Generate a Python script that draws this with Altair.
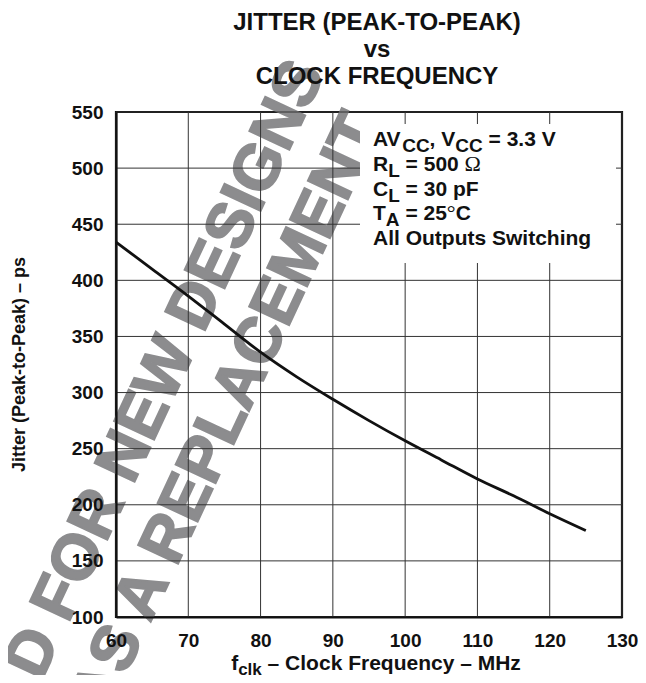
import altair as alt
import pandas as pd

# ---------------- data ----------------
freq_mhz = [60, 65, 70, 75, 80, 85, 90, 95, 100, 105, 110, 115, 120, 125]
jitter_ps = [434, 410, 386, 361, 336, 314, 294, 275, 257, 240, 223, 208, 192, 177]

x_ticks = [60, 70, 80, 90, 100, 110, 120, 130]
y_ticks = [100, 150, 200, 250, 300, 350, 400, 450, 500, 550]

title_lines = ["JITTER (PEAK-TO-PEAK)", "vs", "CLOCK FREQUENCY"]
x_title_segments = [("f", "main"), ("clk", "sub"), (" \u2013 Clock Frequency \u2013 MHz", "main")]
y_title_text = "Jitter (Peak-to-Peak) \u2013 ps"
condition_lines = [
    [("AV", "main"), ("CC", "sub"), (", V", "main"), ("CC", "sub"), (" = 3.3 V", "main")],
    [("R", "main"), ("L", "sub"), (" = 500 ", "main"), ("\u03a9", "sym")],
    [("C", "main"), ("L", "sub"), (" = 30 pF", "main")],
    [("T", "main"), ("A", "sub"), (" = 25", "main"), ("\u00b0", "sym"), ("C", "main")],
    [("All Outputs Switching", "main")],
]
watermark_lines = ["NOT RECOMMENDED FOR NEW DESIGNS", "AS A REPLACEMENT"]

# ---------------- layout / style ----------------
W, H = 506, 505
FONT = "Liberation Sans, Arial, Helvetica, sans-serif"
SYM_FONT = "Liberation Serif, Times New Roman, serif"
INK = "#111111"
GRID = "#333333"
WM_GRAY = "#8c8c8e"

ARIAL_BOLD = {
    " ": 278, ",": 278, ".": 278, "-": 333, "(": 333, ")": 333, "=": 584,
    "0": 556, "1": 556, "2": 556, "3": 556, "4": 556, "5": 556, "6": 556, "7": 556, "8": 556, "9": 556,
    "A": 722, "C": 722, "F": 611, "H": 722, "L": 611, "M": 833, "O": 778, "P": 667, "R": 722,
    "S": 667, "T": 611, "V": 667,
    "a": 556, "c": 556, "e": 556, "f": 333, "g": 611, "h": 611, "i": 278, "k": 556, "l": 278,
    "n": 611, "o": 611, "p": 611, "q": 611, "r": 389, "s": 556, "t": 333, "u": 611, "w": 778,
    "y": 556, "z": 500, "\u2013": 556,
}
SYMBOL = {"\u03a9": 768, "\u00b0": 400, " ": 250}


def text_width(s, size, kind):
    table = SYMBOL if kind == "sym" else ARIAL_BOLD
    return sum(table.get(c, 600) for c in s) / 1000.0 * size


ANNOT_STYLE = {
    "main": dict(font=FONT, size=21, weight="bold", dy=0),
    "sub": dict(font=FONT, size=19, weight="bold", dy=6),
    "sym": dict(font=SYM_FONT, size=22, weight="normal", dy=0),
}
XT_STYLE = {
    "main": dict(font=FONT, size=21, weight="bold", dy=0),
    "sub": dict(font=FONT, size=17, weight="bold", dy=5),
}

dummy = pd.DataFrame({"k": [0]})


def segment_layers(segments, x0, y0, style):
    """Place text pieces one after another (SVG drops leading blanks, so skip them by hand)."""
    layers = []
    x = x0
    for text, kind in segments:
        st = style[kind]
        stripped = text.lstrip(" ")
        lead = text[: len(text) - len(stripped)]
        x += text_width(lead, st["size"], "main" if kind != "sym" else "sym")
        layers.append(
            alt.Chart(dummy)
            .mark_text(text=stripped, align="left", baseline="alphabetic", font=st["font"],
                       fontSize=st["size"], fontWeight=st["weight"], color=INK)
            .encode(x=alt.value(x), y=alt.value(y0 + st["dy"]))
        )
        x += text_width(stripped, st["size"], kind)
    return layers


x_scale = alt.Scale(domain=[60, 130], nice=False, zero=False)
y_scale = alt.Scale(domain=[100, 550], nice=False, zero=False)

common_axis = dict(title=None, grid=False, ticks=False, tickSize=0, domain=True,
                   domainColor=INK, domainWidth=2.2, labelFont=FONT, labelFontSize=19,
                   labelFontWeight="bold", labelColor=INK, labelFlush=False,
                   labelOverlap=False, zindex=1)
x_axis = alt.Axis(values=x_ticks, labelPadding=14, **common_axis)
y_axis = alt.Axis(values=y_ticks, labelPadding=13, **common_axis)

X = alt.X("x:Q", scale=x_scale, axis=x_axis)
Y = alt.Y("y:Q", scale=y_scale, axis=y_axis)

layers = []

# watermark (behind everything)
wm_pos = [(209, -39), (266, 14)]
for line, (px, py) in zip(watermark_lines, wm_pos):
    layers.append(
        alt.Chart(dummy)
        .mark_text(text=line, align="right", baseline="alphabetic", angle=295, font=FONT,
                   fontSize=64, fontWeight="bold", color=WM_GRAY, stroke=WM_GRAY,
                   strokeWidth=2)
        .encode(x=alt.value(px), y=alt.value(py))
    )

# grid
layers.append(alt.Chart(pd.DataFrame({"x": x_ticks})).mark_rule(color=GRID, strokeWidth=1).encode(x=X))
layers.append(alt.Chart(pd.DataFrame({"y": y_ticks})).mark_rule(color=GRID, strokeWidth=1).encode(y=Y))

# white box behind conditions
layers.append(
    alt.Chart(dummy).mark_rect(color="white")
    .encode(x=alt.value(244), x2=alt.value(500), y=alt.value(12), y2=alt.value(151))
)

# conditions text
for i, segs in enumerate(condition_lines):
    layers += segment_layers(segs, 257, 34 + i * 24.8, ANNOT_STYLE)

# curve
curve_df = pd.DataFrame({"x": freq_mhz, "y": jitter_ps})
layers.append(
    alt.Chart(curve_df).mark_line(color=INK, strokeWidth=2.8, interpolate="monotone")
    .encode(x=X, y=Y)
)

# title
for i, line in enumerate(title_lines):
    layers.append(
        alt.Chart(dummy)
        .mark_text(text=line, align="center", baseline="alphabetic", font=FONT, fontSize=24,
                   fontWeight="bold", color=INK)
        .encode(x=alt.value(261), y=alt.value(-82 + i * 27))
    )

# x title (with subscript)
xt_total = sum(text_width(t, XT_STYLE[k]["size"], k) for t, k in x_title_segments)
layers += segment_layers(x_title_segments, 260 - xt_total / 2, 558, XT_STYLE)

# y title
layers.append(
    alt.Chart(dummy)
    .mark_text(text=y_title_text, align="center", baseline="alphabetic", angle=270, font=FONT,
               fontSize=18, fontWeight="bold", color=INK)
    .encode(x=alt.value(-91), y=alt.value(H / 2))
)

chart = (
    alt.layer(*layers)
    .properties(width=W, height=H, autosize=alt.AutoSizeParams(type="none"),
                padding={"left": 108, "top": 104, "right": 16, "bottom": 58})
    .configure_view(stroke=INK, strokeWidth=2.2)
)

chart.save("out.html", embed_options={"renderer": "svg", "actions": False})
